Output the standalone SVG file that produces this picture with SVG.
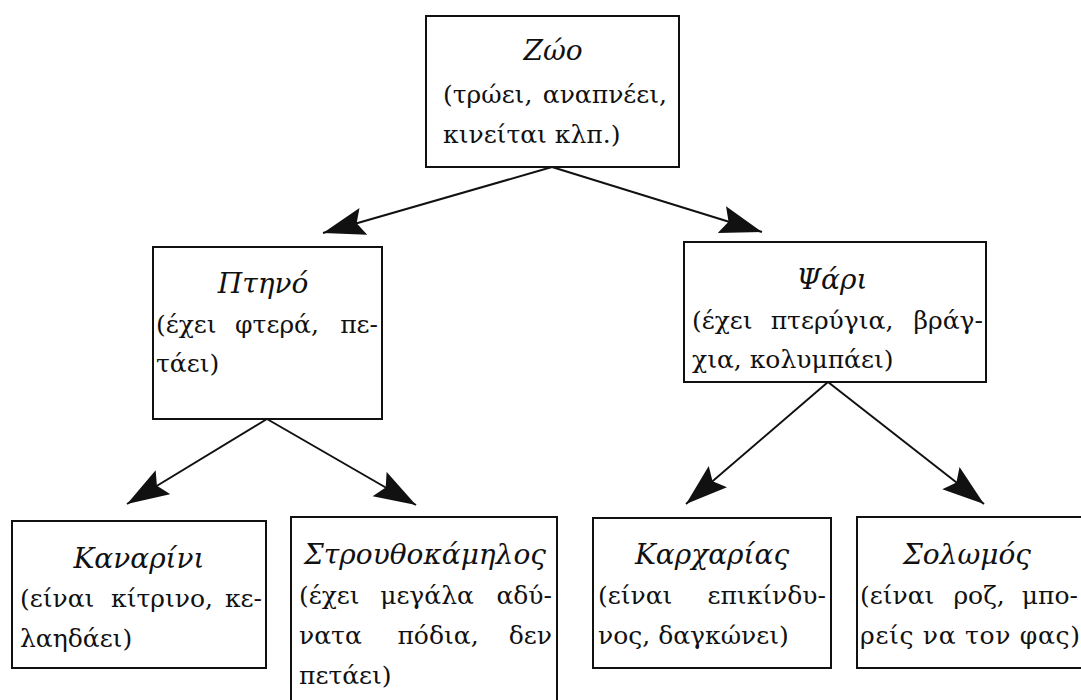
<svg xmlns="http://www.w3.org/2000/svg" width="1081" height="700" viewBox="0 0 1081 700">
<style>
.box{fill:#fff;stroke:#111;stroke-width:2}
.t{font-family:"DejaVu Serif","Liberation Serif",serif;font-size:28px;font-style:italic;fill:#111;text-anchor:middle}
.b{font-family:"DejaVu Serif","Liberation Serif",serif;font-size:25px;fill:#111}
.m{text-anchor:middle}
.e{text-anchor:end}
.c{fill:none;stroke:#111;stroke-width:2}
</style>
<defs>
<marker id="ah" markerUnits="userSpaceOnUse" markerWidth="46" markerHeight="32" refX="42" refY="14" orient="auto">
<path d="M0,0 L42,14 L0,28 L7,14 z" fill="#111"/>
</marker>
</defs>
<rect width="1081" height="700" fill="#fff"/>
<g id="connectors">
<line class="c" x1="552" y1="167" x2="323" y2="233" marker-end="url(#ah)"/>
<line class="c" x1="552" y1="167" x2="762" y2="232" marker-end="url(#ah)"/>
<line class="c" x1="267" y1="419" x2="127" y2="504" marker-end="url(#ah)"/>
<line class="c" x1="267" y1="419" x2="416" y2="505" marker-end="url(#ah)"/>
<line class="c" x1="828" y1="382" x2="686" y2="504" marker-end="url(#ah)"/>
<line class="c" x1="828" y1="382" x2="984" y2="504" marker-end="url(#ah)"/>
</g>
<g id="zwo">
<rect class="box" x="426" y="16" width="253" height="151"/>
<text class="t" x="553" y="60">Ζώο</text>
<text class="b" y="103"><tspan x="443">(τρώει, </tspan><tspan class="e" x="667">αναπνέει,</tspan></text>
<text class="b" x="443" y="143">κινείται κλπ.)</text>
</g>
<g id="ptino">
<rect class="box" x="153" y="247" width="229" height="172"/>
<text class="t" x="263" y="293">Πτηνό</text>
<text class="b" y="333"><tspan x="156">(έχει </tspan><tspan class="m" x="281">φτερά, </tspan><tspan class="e" x="378">πε-</tspan></text>
<text class="b" x="156" y="372">τάει)</text>
</g>
<g id="psari">
<rect class="box" x="684" y="242" width="302" height="140"/>
<text class="t" x="832" y="289">Ψάρι</text>
<text class="b" y="329"><tspan x="692">(έχει </tspan><tspan class="m" x="836">πτερύγια, </tspan><tspan class="e" x="983">βράγ-</tspan></text>
<text class="b" x="692" y="368">χια, κολυμπάει)</text>
</g>
<g id="kanarini">
<rect class="box" x="12" y="521" width="254" height="147"/>
<text class="t" x="139" y="568">Καναρίνι</text>
<text class="b" y="607"><tspan x="20">(είναι </tspan><tspan class="m" x="166">κίτρινο, </tspan><tspan class="e" x="262">κε-</tspan></text>
<text class="b" x="20" y="647">λαηδάει)</text>
</g>
<g id="strouthokamilos">
<rect class="box" x="291" y="517" width="266" height="200"/>
<text class="t" x="425" y="564">Στρουθοκάμηλος</text>
<text class="b" y="604"><tspan x="299">(έχει </tspan><tspan class="m" x="431">μεγάλα </tspan><tspan class="e" x="552">αδύ-</tspan></text>
<text class="b" y="644"><tspan x="299">νατα </tspan><tspan class="m" x="442">πόδια, </tspan><tspan class="e" x="552">δεν</tspan></text>
<text class="b" x="299" y="684">πετάει)</text>
</g>
<g id="karcharias">
<rect class="box" x="593" y="518" width="238" height="150"/>
<text class="t" x="712" y="564">Καρχαρίας</text>
<text class="b" y="604"><tspan x="598">(είναι </tspan><tspan class="e" x="826">επικίνδυ-</tspan></text>
<text class="b" x="598" y="644">νος, δαγκώνει)</text>
</g>
<g id="solomos">
<rect class="box" x="857" y="517" width="240" height="151"/>
<text class="t" x="967" y="564">Σολωμός</text>
<text class="b" y="604"><tspan x="860">(είναι </tspan><tspan class="m" x="983">ροζ, </tspan><tspan class="e" x="1078">μπο-</tspan></text>
<text class="b" x="860" y="644" textLength="220" lengthAdjust="spacing">ρείς να τον φας)</text>
</g>
</svg>
